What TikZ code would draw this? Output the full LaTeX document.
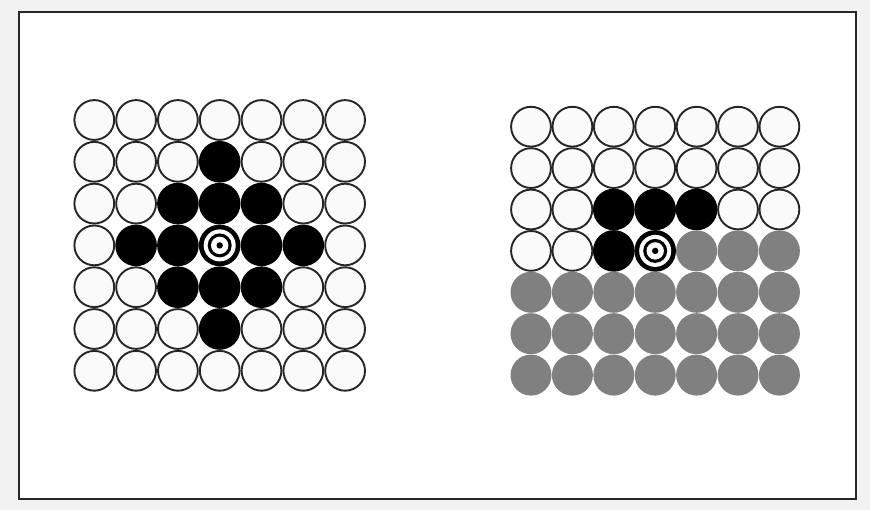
\documentclass[tikz,border=0pt]{standalone}
\usepackage{tikz}

\begin{document}
\begin{tikzpicture}[x=1pt, y=-1pt,
  cell/.style={circle, inner sep=0pt, minimum size=39.8pt, line width=1.9pt},
  empty/.style={cell, draw=black!85, fill=black!2},
  hit/.style={cell, minimum size=41.6pt, fill=black},
  shade/.style={cell, minimum size=41pt, fill=black!50}]

% Paper and frame
\fill[black!5] (0,0) rectangle (870,510);
\draw[line width=2pt, draw=black!85, fill=white] (18.5,12.5) rectangle (856,499);

% Left grid: cells within two steps of the centre are hit
\foreach \r in {0,...,6}
  \foreach \c in {0,...,6} {
    \pgfmathtruncatemacro\d{abs(\r-3)+abs(\c-3)}
    \ifnum\d<3
      \node (L\r\c) [hit] at (94.3+41.8*\c, 120+41.8*\r) {};
    \else
      \node (L\r\c) [empty] at (94.3+41.8*\c, 120+41.8*\r) {};
    \fi
  }

% Right grid: hit cells above the target, shaded half below
\foreach \r in {0,...,6}
  \foreach \c in {0,...,6} {
    \pgfmathtruncatemacro\k{\r<2 ? 0 : (\r==2 ? ((\c>1 && \c<5) ? 1 : 0) : (\r==3 ? (\c<2 ? 0 : (\c<4 ? 1 : 2)) : 2))}
    \ifcase\k
      \node (R\r\c) [empty] at (531+41.4*\c, 126.7+41.4*\r) {};
    \or
      \node (R\r\c) [hit] at (531+41.4*\c, 126.7+41.4*\r) {};
    \or
      \node (R\r\c) [shade] at (531+41.4*\c, 126.7+41.4*\r) {};
    \fi
  }

% Targets in the centre cells
\foreach \t in {L33, R33} {
  \fill[white] (\t) circle (16);
  \fill[black] (\t) circle (12);
  \fill[white] (\t) circle (8.7);
  \fill[black] (\t) circle (3.2);
}

\end{tikzpicture}
\end{document}
